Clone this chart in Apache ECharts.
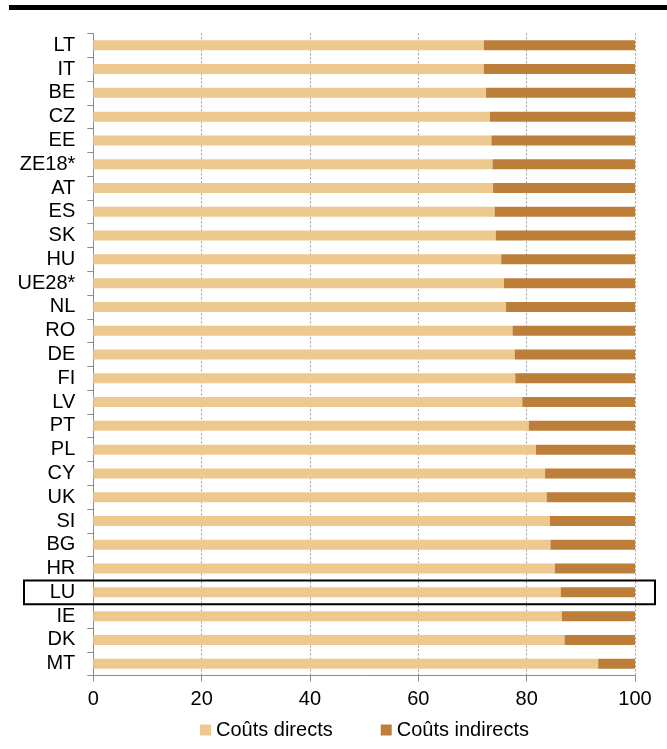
<!DOCTYPE html>
<html>
<head>
<meta charset="utf-8">
<script src="https://cdn.jsdelivr.net/npm/echarts@6/dist/echarts.min.js"></script>
<style>
  html, body { margin: 0; padding: 0; background: #fff; }
  #chart { width: 667px; height: 749px; }
</style>
</head>
<body>
<div id="chart"></div>
<script>
// Share of direct and indirect costs, by country (%)
const countries = ['LT', 'IT', 'BE', 'CZ', 'EE', 'ZE18*', 'AT', 'ES', 'SK', 'HU', 'UE28*', 'NL', 'RO', 'DE',
  'FI', 'LV', 'PT', 'PL', 'CY', 'UK', 'SI', 'BG', 'HR', 'LU', 'IE', 'DK', 'MT'];
const directCosts = [72.1, 72.1, 72.5, 73.2, 73.5, 73.7, 73.8, 74.1, 74.3, 75.3, 75.8, 76.2, 77.4, 77.8,
  77.9, 79.2, 80.4, 81.7, 83.4, 83.7, 84.3, 84.4, 85.2, 86.3, 86.5, 87.0, 93.2];
const indirectCosts = [27.9, 27.9, 27.5, 26.8, 26.5, 26.3, 26.2, 25.9, 25.7, 24.7, 24.2, 23.8, 22.6, 22.2,
  22.1, 20.8, 19.6, 18.3, 16.6, 16.3, 15.7, 15.6, 14.8, 13.7, 13.5, 13.0, 6.8];
const seriesNames = ['Coûts directs', 'Coûts indirects'];
const xTicks = { min: 0, max: 100, interval: 20 };
const highlighted = 'LU';

const FONT = 'Arial, "Liberation Sans", sans-serif';
const AXIS_GREY = '#8c8c8c';

const chart = echarts.init(document.getElementById('chart'), null, { renderer: 'canvas' });

chart.setOption({
  animation: false,
  backgroundColor: '#ffffff',
  textStyle: { fontFamily: FONT },
  grid: { left: 93.3, right: 32, top: 33.4, bottom: 73.4, containLabel: false },
  legend: {
    left: 195,
    top: 715,
    itemWidth: 11,
    itemHeight: 11,
    itemGap: 48,
    icon: 'rect',
    textStyle: { fontFamily: FONT, fontSize: 20, color: '#000', padding: [0, 0, 0, 0] },
    data: seriesNames
  },
  xAxis: {
    type: 'value',
    min: xTicks.min,
    max: xTicks.max,
    interval: xTicks.interval,
    axisLine: { show: true, lineStyle: { color: AXIS_GREY, width: 1 } },
    axisTick: { show: true, length: 6, lineStyle: { color: AXIS_GREY } },
    axisLabel: { margin: 14, color: '#000', fontSize: 20, fontFamily: FONT },
    splitLine: { show: true, lineStyle: { color: '#9a9a9a', type: [2, 2], width: 1 } }
  },
  yAxis: {
    type: 'category',
    inverse: true,
    data: countries,
    axisLine: { show: true, lineStyle: { color: AXIS_GREY, width: 1 } },
    axisTick: { show: true, interval: 0, length: 6, lineStyle: { color: AXIS_GREY } },
    axisLabel: { interval: 0, margin: 18, color: '#000', fontSize: 20, fontFamily: FONT },
    splitLine: { show: false }
  },
  series: [
    {
      name: seriesNames[0],
      type: 'bar',
      stack: 'total',
      barWidth: 10,
      itemStyle: { color: '#edc98f' },
      data: directCosts
    },
    {
      name: seriesNames[1],
      type: 'bar',
      stack: 'total',
      barWidth: 10,
      itemStyle: { color: '#bc7e38' },
      data: indirectCosts
    }
  ]
});

// Header rule and the frame around the highlighted country's row
const rowCenter = chart.convertToPixel({ yAxisIndex: 0 }, highlighted);
const rowTop = chart.convertToPixel({ yAxisIndex: 0 }, countries[0]);
const rowNext = chart.convertToPixel({ yAxisIndex: 0 }, countries[1]);
const band = Math.abs(rowNext - rowTop);

chart.setOption({
  graphic: [
    {
      type: 'rect',
      shape: { x: 9, y: 5, width: 658, height: 5 },
      style: { fill: '#000' },
      z: 100
    },
    {
      type: 'rect',
      shape: { x: 24, y: rowCenter - band / 2, width: 631, height: band },
      style: { fill: 'none', stroke: '#000', lineWidth: 2 },
      z: 100
    }
  ]
});
</script>
</body>
</html>
